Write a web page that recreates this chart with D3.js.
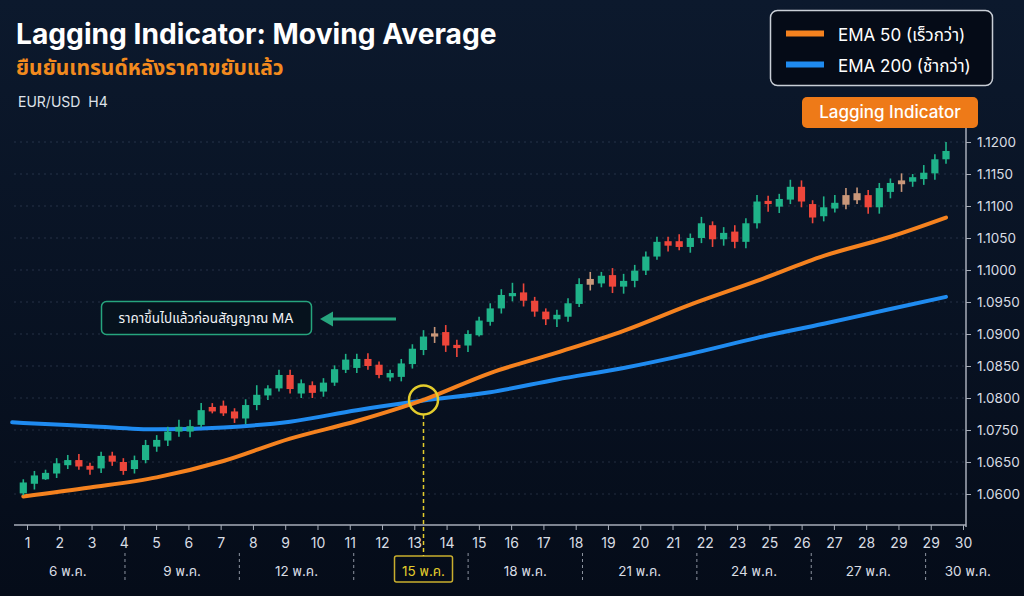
<!DOCTYPE html>
<html>
<head>
<meta charset="utf-8">
<script src="https://cdn.jsdelivr.net/npm/d3@7"></script>
<style>
    html, body { margin: 0; padding: 0; background: #07101f; }
    svg { display: block; }
    text { font-family: Inter, 'Noto Sans Thai', 'Noto Sans', 'DejaVu Sans', sans-serif; }
</style>
</head>
<body>
<svg id="chart" width="1024" height="596"></svg>
<script>
// EUR/USD H4 candles
var candleOpen = [1.0601, 1.0616, 1.0623, 1.0632, 1.0645, 1.0656, 1.0644, 1.0640, 1.0670, 1.0650,
    1.0639, 1.0656, 1.0698, 1.0717, 1.0745, 1.0745, 1.0758, 1.0786, 1.0788, 1.0779,
    1.0768, 1.0789, 1.0804, 1.0815, 1.0836, 1.0807, 1.0820, 1.0810, 1.0824, 1.0844,
    1.0847, 1.0861, 1.0852, 1.0832, 1.0833, 1.0853, 1.0875, 1.0896, 1.0903, 1.0883,
    1.0882, 1.0898, 1.0919, 1.0940, 1.0959, 1.0965, 1.0952, 1.0935, 1.0923, 1.0927,
    1.0947, 1.0977, 1.0979, 1.0992, 1.0974, 1.0983, 1.0999, 1.1021, 1.1045, 1.1045,
    1.1036, 1.1050, 1.1070, 1.1048, 1.1060, 1.1044, 1.1073, 1.1108, 1.1099, 1.1110,
    1.1130, 1.1103, 1.1084, 1.1096, 1.1102, 1.1120, 1.1117, 1.1098, 1.1122, 1.1134,
    1.1138, 1.1142, 1.1151, 1.1173];
var candleHigh = [1.0623, 1.0636, 1.0638, 1.0662, 1.0672, 1.0675, 1.0649, 1.0682, 1.0682, 1.0662,
    1.0670, 1.0719, 1.0734, 1.0755, 1.0766, 1.0766, 1.0792, 1.0792, 1.0796, 1.0784,
    1.0798, 1.0820, 1.0820, 1.0844, 1.0844, 1.0829, 1.0826, 1.0831, 1.0851, 1.0869,
    1.0869, 1.0870, 1.0857, 1.0844, 1.0861, 1.0884, 1.0906, 1.0911, 1.0914, 1.0891,
    1.0906, 1.0927, 1.0948, 1.0970, 1.0980, 1.0979, 1.0958, 1.0940, 1.0938, 1.0956,
    1.0987, 1.0997, 1.0997, 1.1003, 1.0994, 1.1008, 1.1029, 1.1052, 1.1052, 1.1056,
    1.1057, 1.1083, 1.1076, 1.1067, 1.1070, 1.1081, 1.1117, 1.1116, 1.1119, 1.1141,
    1.1140, 1.1109, 1.1115, 1.1117, 1.1128, 1.1129, 1.1125, 1.1136, 1.1143, 1.1151,
    1.1150, 1.1164, 1.1181, 1.1200];
var candleLow = [1.0598, 1.0607, 1.0622, 1.0625, 1.0639, 1.0638, 1.0630, 1.0633, 1.0644, 1.0630,
    1.0632, 1.0648, 1.0682, 1.0700, 1.0729, 1.0727, 1.0754, 1.0776, 1.0772, 1.0761,
    1.0759, 1.0781, 1.0797, 1.0810, 1.0807, 1.0800, 1.0800, 1.0802, 1.0819, 1.0839,
    1.0839, 1.0844, 1.0831, 1.0826, 1.0826, 1.0846, 1.0867, 1.0886, 1.0872, 1.0864,
    1.0872, 1.0896, 1.0913, 1.0932, 1.0951, 1.0943, 1.0927, 1.0914, 1.0911, 1.0919,
    1.0942, 1.0968, 1.0973, 1.0964, 1.0963, 1.0973, 1.0992, 1.1016, 1.1029, 1.1031,
    1.1027, 1.1042, 1.1036, 1.1038, 1.1034, 1.1034, 1.1065, 1.1091, 1.1089, 1.1103,
    1.1098, 1.1073, 1.1076, 1.1090, 1.1095, 1.1103, 1.1088, 1.1088, 1.1112, 1.1122,
    1.1130, 1.1133, 1.1141, 1.1166];
var candleClose = [1.0618, 1.0629, 1.0633, 1.0648, 1.0656, 1.0643, 1.0638, 1.0669, 1.0651, 1.0636,
    1.0656, 1.0703, 1.0719, 1.0745, 1.0755, 1.0756, 1.0781, 1.0779, 1.0776, 1.0768,
    1.0789, 1.0805, 1.0815, 1.0836, 1.0814, 1.0823, 1.0808, 1.0824, 1.0845, 1.0860,
    1.0861, 1.0850, 1.0836, 1.0839, 1.0854, 1.0877, 1.0896, 1.0901, 1.0882, 1.0878,
    1.0900, 1.0921, 1.0940, 1.0961, 1.0964, 1.0952, 1.0935, 1.0923, 1.0930, 1.0948,
    1.0978, 1.0986, 1.0991, 1.0974, 1.0983, 1.0999, 1.1021, 1.1044, 1.1038, 1.1036,
    1.1050, 1.1073, 1.1048, 1.1058, 1.1044, 1.1073, 1.1107, 1.1103, 1.1111, 1.1130,
    1.1107, 1.1082, 1.1098, 1.1105, 1.1117, 1.1109, 1.1098, 1.1128, 1.1136, 1.1140,
    1.1145, 1.1152, 1.1173, 1.1186];
// indecision bars drawn in a muted colour
var neutralBars = [37, 51, 74, 75, 79];

// moving averages sampled at these candle indexes
var emaAt = [-1, 0, 6, 12, 18, 24, 30, 36, 42, 48, 54, 60, 66, 72, 78, 83];
var ema50 = [null, 1.0596, 1.0610, 1.0626, 1.0653, 1.0723, 1.0764, 1.0797, 1.0839, 1.0871,
    1.0905, 1.0946, 1.0983, 1.1022, 1.1052, 1.1082];
var ema200 = [1.0762, 1.0761, 1.0756, 1.0751, 1.0754, 1.0763, 1.0781, 1.0796, 1.0809, 1.0829,
    1.0847, 1.0869, 1.0894, 1.0916, 1.0939, 1.0958];
var crossIndex = 36;

var priceTicks = [1.0600, 1.0650, 1.0750, 1.0800, 1.0850, 1.0900, 1.0950, 1.1000, 1.1050, 1.1100, 1.1150, 1.1200];
var sessionTicks = ['1', '2', '3', '4', '5', '6', '7', '8', '9', '10', '11', '12', '13', '14', '15',
    '16', '17', '18', '19', '20', '21', '22', '23', '25', '26', '27', '28', '29', '29', '30'];
var dateLabels = ['6 พ.ค.', '9 พ.ค.', '12 พ.ค.', '15 พ.ค.', '18 พ.ค.', '21 พ.ค.', '24 พ.ค.', '27 พ.ค.', '30 พ.ค.'];
var highlightDate = '15 พ.ค.';

var legendItems = ['EMA 50 (เร็วกว่า)', 'EMA 200 (ช้ากว่า)'];

var colors = {
    up: '#1fb389',
    down: '#ee463b',
    neutral: '#c9977a',
    ema50: '#f5821f',
    ema200: '#1f8bf0',
    accent: '#f28a1e',
    yellow: '#e3cc2c',
    note: '#26a57e',
    axis: '#a7adb8',
    label: '#d9dde4'
};

var svg = d3.select('#chart');
var width = 1024, height = 596;
var plotLeft = 14, plotRight = 966, axisY = 525;

var defs = svg.append('defs');
var bg = defs.append('linearGradient').attr('id', 'bg')
    .attr('x1', 0).attr('y1', 0).attr('x2', 0).attr('y2', 1);
bg.append('stop').attr('offset', '0%').attr('stop-color', '#0c192d');
bg.append('stop').attr('offset', '100%').attr('stop-color', '#050c19');

svg.append('rect').attr('width', width).attr('height', height).attr('fill', 'url(#bg)');

// scales
var x = d3.scaleLinear().domain([0, candleOpen.length - 1]).range([23.3, 946]);
var y = d3.scaleLinear()
    .domain(priceTicks)
    .range(priceTicks.map(function(d, i) { return 494 - i * 32; }));
var xSession = d3.scalePoint().domain(d3.range(sessionTicks.length)).range([27, 963]);
var xDate = d3.scaleBand().domain(dateLabels).range([10.6, 1040]);

// grid
svg.append('g').selectAll('line')
    .data(priceTicks)
    .enter().append('line')
    .attr('x1', plotLeft).attr('x2', plotRight)
    .attr('y1', function(d) { return y(d); })
    .attr('y2', function(d) { return y(d); })
    .attr('stroke', 'rgba(140,160,195,0.22)')
    .attr('stroke-dasharray', '2,4');

// axes
var yAxis = svg.append('g')
    .attr('transform', 'translate(' + plotRight + ',0)')
    .call(d3.axisRight(y).tickValues(priceTicks).tickFormat(d3.format('.4f')).tickSize(5).tickPadding(6));
yAxis.select('.domain').remove();
yAxis.selectAll('line').attr('stroke', colors.axis);
yAxis.selectAll('text').attr('fill', colors.label).attr('font-size', 13.5);

var xAxis = svg.append('g')
    .attr('transform', 'translate(0,' + axisY + ')')
    .call(d3.axisBottom(xSession).tickFormat(function(i) { return sessionTicks[i]; }).tickSize(5).tickPadding(8));
xAxis.select('.domain').remove();
xAxis.selectAll('line').attr('stroke', colors.axis);
xAxis.selectAll('text').attr('fill', colors.label).attr('font-size', 14);

svg.append('line')
    .attr('x1', plotLeft).attr('x2', plotRight)
    .attr('y1', axisY).attr('y2', axisY)
    .attr('stroke', colors.axis).attr('stroke-width', 1.5);
svg.append('line')
    .attr('x1', plotRight).attr('x2', plotRight)
    .attr('y1', 128).attr('y2', axisY + 2)
    .attr('stroke', colors.axis).attr('stroke-width', 1.5);

// date row
svg.append('g').selectAll('line')
    .data(dateLabels.slice(1))
    .enter().append('line')
    .attr('x1', function(d) { return xDate(d); })
    .attr('x2', function(d) { return xDate(d); })
    .attr('y1', 553).attr('y2', 582)
    .attr('stroke', '#8d94a0')
    .attr('stroke-dasharray', '3,3');

var crossX = x(crossIndex);
var crossY = y(ema50[emaAt.indexOf(crossIndex)]);

// label sits in the middle of its session, the last one clipped to the page
var dateCenter = function(d) {
    if (d === highlightDate) return crossX;
    var left = xDate(d);
    var right = Math.min(left + xDate.bandwidth(), width - 14);
    return (left + right) / 2;
};

svg.append('g').selectAll('text')
    .data(dateLabels)
    .enter().append('text')
    .attr('x', dateCenter)
    .attr('y', 576)
    .attr('text-anchor', 'middle')
    .attr('font-size', 13.5)
    .attr('fill', function(d) { return d === highlightDate ? colors.yellow : colors.label; })
    .text(function(d) { return d; });

svg.append('rect')
    .attr('x', crossX - 29).attr('y', 556)
    .attr('width', 58).attr('height', 26)
    .attr('rx', 2)
    .attr('fill', 'none')
    .attr('stroke', '#c9ae2e')
    .attr('stroke-width', 1.5);

// EMA lines
var emaPoints = function(values) {
    return emaAt.map(function(idx, i) { return { idx: idx, v: values[i] }; });
};
var emaLine = d3.line()
    .defined(function(d) { return d.v !== null; })
    .x(function(d) { return x(d.idx); })
    .y(function(d) { return y(d.v); })
    .curve(d3.curveMonotoneX);

svg.append('path')
    .datum(emaPoints(ema200))
    .attr('d', emaLine)
    .attr('fill', 'none')
    .attr('stroke', colors.ema200)
    .attr('stroke-width', 4)
    .attr('stroke-linecap', 'round');

svg.append('path')
    .datum(emaPoints(ema50))
    .attr('d', emaLine)
    .attr('fill', 'none')
    .attr('stroke', colors.ema50)
    .attr('stroke-width', 4)
    .attr('stroke-linecap', 'round');

// candles
var candles = candleOpen.map(function(o, i) {
    return { i: i, o: o, h: candleHigh[i], l: candleLow[i], c: candleClose[i] };
});
var candleColor = function(d) {
    if (neutralBars.indexOf(d.i) > -1) return colors.neutral;
    return d.c >= d.o ? colors.up : colors.down;
};

var candle = svg.append('g').selectAll('g')
    .data(candles)
    .enter().append('g');

candle.append('line')
    .attr('x1', function(d) { return x(d.i); })
    .attr('x2', function(d) { return x(d.i); })
    .attr('y1', function(d) { return y(d.h); })
    .attr('y2', function(d) { return y(d.l); })
    .attr('stroke', candleColor)
    .attr('stroke-width', 1.6);

candle.append('rect')
    .attr('x', function(d) { return x(d.i) - 3.6; })
    .attr('width', 7.2)
    .attr('y', function(d) { return y(Math.max(d.o, d.c)); })
    .attr('height', function(d) { return Math.max(2, Math.abs(y(d.o) - y(d.c))); })
    .attr('fill', candleColor);

// crossover marker
svg.append('line')
    .attr('x1', crossX).attr('x2', crossX)
    .attr('y1', crossY + 15).attr('y2', 556)
    .attr('stroke', colors.yellow)
    .attr('stroke-width', 1.5)
    .attr('stroke-dasharray', '4,3');
svg.append('circle')
    .attr('cx', crossX).attr('cy', crossY).attr('r', 14.5)
    .attr('fill', 'none')
    .attr('stroke', colors.yellow)
    .attr('stroke-width', 2.5);

// annotation
svg.append('rect')
    .attr('x', 101.5).attr('y', 301.5).attr('width', 210).attr('height', 33)
    .attr('rx', 5)
    .attr('fill', '#06121d')
    .attr('stroke', colors.note)
    .attr('stroke-width', 1.5);
svg.append('text')
    .attr('x', 206).attr('y', 323)
    .attr('text-anchor', 'middle')
    .attr('font-size', 13.5)
    .attr('fill', '#f1f3f6')
    .text('ราคาขึ้นไปแล้วก่อนสัญญาณ MA');
svg.append('line')
    .attr('x1', 396).attr('x2', 330)
    .attr('y1', 319).attr('y2', 319)
    .attr('stroke', colors.note)
    .attr('stroke-width', 3);
svg.append('path')
    .attr('d', 'M320,319 L333,311.5 L333,326.5 Z')
    .attr('fill', colors.note);

// titles
svg.append('text')
    .attr('x', 16).attr('y', 44)
    .attr('font-size', 28.2)
    .attr('font-weight', 700)
    .attr('fill', '#ffffff')
    .text('Lagging Indicator: Moving Average');
svg.append('text')
    .attr('x', 16).attr('y', 75)
    .attr('font-size', 21)
    .attr('font-weight', 700)
    .attr('fill', colors.accent)
    .text('ยืนยันเทรนด์หลังราคาขยับแล้ว');
svg.append('text')
    .attr('x', 18).attr('y', 107)
    .attr('font-size', 14)
    .attr('fill', '#dfe3ea')
    .text('EUR/USD\u00a0\u00a0H4');

// legend
var legend = svg.append('g');
legend.append('rect')
    .attr('x', 770.5).attr('y', 10.5).attr('width', 222).attr('height', 75)
    .attr('rx', 7)
    .attr('fill', '#050b17')
    .attr('stroke', '#c9ced6')
    .attr('stroke-width', 1.5);
var legendRow = legend.selectAll('g')
    .data(legendItems)
    .enter().append('g')
    .attr('transform', function(d, i) { return 'translate(0,' + (33.5 + i * 31) + ')'; });
legendRow.append('line')
    .attr('x1', 786).attr('x2', 824)
    .attr('stroke', function(d, i) { return i === 0 ? colors.ema50 : colors.ema200; })
    .attr('stroke-width', 6);
legendRow.append('text')
    .attr('x', 838).attr('y', 7)
    .attr('font-size', 17)
    .attr('fill', '#ffffff')
    .text(function(d) { return d; });

// tag
svg.append('rect')
    .attr('x', 802).attr('y', 97).attr('width', 176).attr('height', 31)
    .attr('rx', 5)
    .attr('fill', '#ee7a18');
svg.append('text')
    .attr('x', 890).attr('y', 118)
    .attr('text-anchor', 'middle')
    .attr('font-size', 17)
    .attr('font-weight', 500)
    .attr('fill', '#ffffff')
    .text('Lagging Indicator');
</script>
</body>
</html>
